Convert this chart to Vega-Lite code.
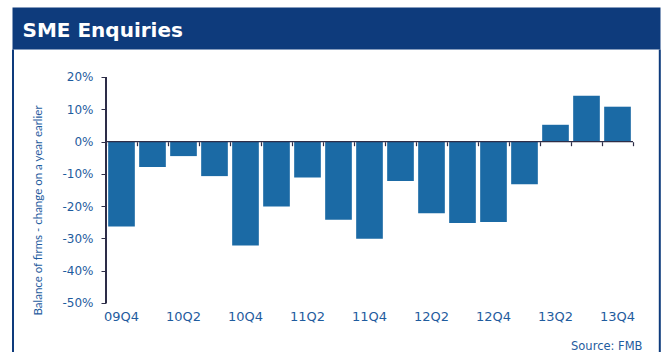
{
  "$schema": "https://vega.github.io/schema/vega-lite/v6.json",
  "width": 648,
  "height": 303,
  "autosize": {"type": "none"},
  "padding": {"left": 12, "top": 49, "right": 5, "bottom": 0},
  "background": "white",
  "config": {"view": {"stroke": null}},
  "data": {
    "values": [
      {"q": "09Q4", "v": -26.3},
      {"q": "10Q1", "v": -7.9},
      {"q": "10Q2", "v": -4.5},
      {"q": "10Q3", "v": -10.7},
      {"q": "10Q4", "v": -32.2},
      {"q": "11Q1", "v": -20.1},
      {"q": "11Q2", "v": -11.1},
      {"q": "11Q3", "v": -24.2},
      {"q": "11Q4", "v": -30.1},
      {"q": "12Q1", "v": -12.2},
      {"q": "12Q2", "v": -22.2},
      {"q": "12Q3", "v": -25.2},
      {"q": "12Q4", "v": -24.9},
      {"q": "13Q1", "v": -13.2},
      {"q": "13Q2", "v": 5.2},
      {"q": "13Q3", "v": 14.2},
      {"q": "13Q4", "v": 10.8}
    ]
  },
  "resolve": {"axis": {"x": "independent", "y": "independent"}},
  "layer": [
    {
      "mark": {"type": "bar", "color": "#1b6aa5", "width": {"band": 0.86}},
      "encoding": {
        "x": {
          "field": "q", "type": "nominal", "sort": null,
          "scale": {
            "type": "band", "paddingInner": 0, "paddingOuter": 0.4516, "align": 0.0357,
            "domain": ["_a", "_b", "_c", "09Q4", "10Q1", "10Q2", "10Q3", "10Q4", "11Q1", "11Q2", "11Q3", "11Q4", "12Q1", "12Q2", "12Q3", "12Q4", "13Q1", "13Q2", "13Q3", "13Q4"]
          },
          "axis": {
            "orient": "bottom", "offset": -49, "domain": false, "ticks": false, "grid": false,
            "values": ["09Q4", "10Q2", "10Q4", "11Q2", "11Q4", "12Q2", "12Q4", "13Q2", "13Q4"],
            "labelAngle": 0, "labelFont": "DejaVu Sans", "labelFontSize": 13, "labelColor": "#1f5c9e", "labelPadding": 7,
            "title": "Source: FMB", "titleFont": "DejaVu Sans", "titleFontSize": 11.5, "titleFontWeight": "normal",
            "titleColor": "#1f5c9e", "titleAlign": "right", "titleBaseline": "alphabetic", "titleX": 630, "titleY": 46
          }
        },
        "y": {
          "field": "v", "type": "quantitative",
          "scale": {"domain": [-65.177, 28.672], "nice": false, "zero": false},
          "axis": {
            "orient": "left", "offset": -94, "domain": false, "grid": false,
            "values": [-50, -40, -30, -20, -10, 0, 10, 20],
            "tickSize": 5, "tickColor": "#2e2e48", "tickWidth": 1,
            "labelExpr": "datum.value + '%'", "labelFont": "DejaVu Sans", "labelFontSize": 12, "labelColor": "#1f5c9e", "labelPadding": 8,
            "title": "Balance of firms - change on a year earlier", "titleFont": "Lato", "titleFontSize": 11.5, "titleFontWeight": "normal",
            "titleColor": "#1f5c9e", "titlePadding": 18, "titleY": 161
          }
        }
      }
    },
    {
      "mark": {"type": "bar", "color": "#2e2e48", "stroke": "#2e2e48", "strokeWidth": 1.2, "width": {"band": 1}},
      "encoding": {
        "x": {
          "field": "q", "type": "nominal", "sort": null,
          "axis": {
            "orient": "bottom", "offset": -210.3, "domain": false, "labels": false, "grid": false,
            "values": ["09Q4", "10Q1", "10Q2", "10Q3", "10Q4", "11Q1", "11Q2", "11Q3", "11Q4", "12Q1", "12Q2", "12Q3", "12Q4", "13Q1", "13Q2", "13Q3", "13Q4"],
            "ticks": true, "tickBand": "extent", "tickSize": 4, "tickColor": "#2e2e48", "tickWidth": 1.2, "title": null
          }
        },
        "y": {
          "datum": 0, "type": "quantitative",
          "scale": {"domain": [-65.177, 28.672], "nice": false, "zero": false},
          "axis": {
            "orient": "left", "offset": -0.5, "domain": true, "domainWidth": 2, "domainColor": "#0e3b7c",
            "labels": false, "ticks": false, "grid": false, "title": null
          }
        },
        "y2": {"datum": 0}
      }
    },
    {
      "mark": {"type": "rule", "color": "#2e2e48", "strokeWidth": 1.2},
      "encoding": {
        "x": {
          "datum": "09Q4", "type": "nominal", "bandPosition": 0,
          "axis": {
            "orient": "top", "offset": 21, "domain": true, "domainWidth": 42, "domainColor": "#0e3b7c", "domainCap": "butt",
            "labels": false, "ticks": false, "grid": false,
            "title": "SME Enquiries", "titleFont": "DejaVu Sans", "titleFontWeight": "bold", "titleFontSize": 20,
            "titleColor": "white", "titleAlign": "left", "titleBaseline": "alphabetic", "titleX": 10, "titleY": 8.7
          }
        },
        "y": {
          "datum": -50, "type": "quantitative",
          "scale": {"domain": [-65.177, 28.672], "nice": false, "zero": false},
          "axis": {
            "orient": "right", "offset": -0.7, "domain": true, "domainWidth": 2, "domainColor": "#0e3b7c",
            "labels": false, "ticks": false, "grid": false, "title": null
          }
        },
        "y2": {"datum": 20}
      }
    }
  ]
}
